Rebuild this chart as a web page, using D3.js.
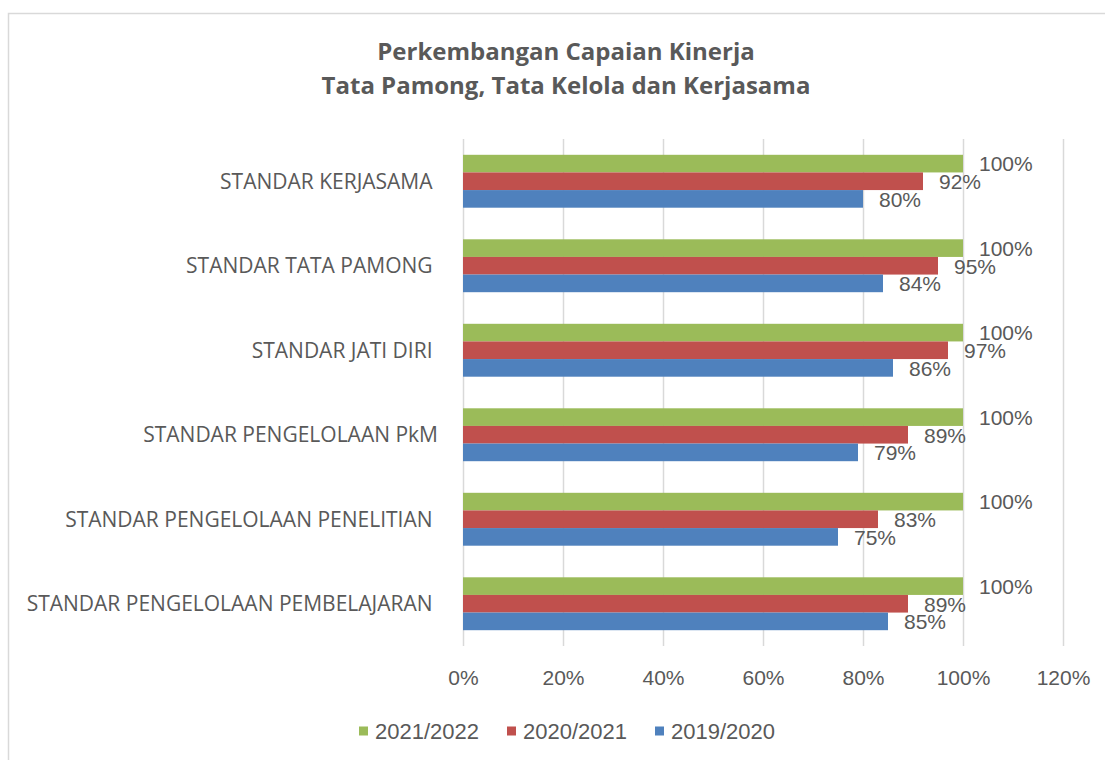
<!DOCTYPE html>
<html>
<head>
<meta charset="utf-8">
<script src="https://cdn.jsdelivr.net/npm/d3@7/dist/d3.min.js"></script>
<style>
  html, body { margin: 0; padding: 0; background: #fff; }
  svg { display: block; }
  .num { font-family: "Liberation Sans", Arial, sans-serif; }
  .cat { font-family: "Open Sans", sans-serif; white-space: pre; }
</style>
</head>
<body>
<svg id="chart" width="1105" height="760"></svg>
<script>
const titleLines = ["Perkembangan Capaian Kinerja", "Tata Pamong, Tata Kelola dan Kerjasama"];
const categories = [
  "STANDAR KERJASAMA ",
  "STANDAR TATA PAMONG ",
  "STANDAR JATI DIRI ",
  "STANDAR PENGELOLAAN PkM",
  "STANDAR PENGELOLAAN PENELITIAN ",
  "STANDAR PENGELOLAAN PEMBELAJARAN "
];
const seriesNames = ["2021/2022", "2020/2021", "2019/2020"];
const values2021_2022 = [100, 100, 100, 100, 100, 100];
const values2020_2021 = [92, 95, 97, 89, 83, 89];
const values2019_2020 = [80, 84, 86, 79, 75, 85];
const seriesColors = ["#9BBB59", "#C0504D", "#4F81BD"];
const tickValues = [0, 20, 40, 60, 80, 100, 120];

const seriesValues = [values2021_2022, values2020_2021, values2019_2020];
const series = seriesNames.map((name, i) => ({ name, color: seriesColors[i], values: seriesValues[i] }));

const svg = d3.select("#chart");
const textColor = "#595959";
const gridColor = "#D9D9D9";

// outer chart border
svg.append("rect")
  .attr("x", 8.5).attr("y", 13.5)
  .attr("width", 1110).attr("height", 760)
  .attr("fill", "none").attr("stroke", gridColor).attr("stroke-width", 1.5);

// title
const title = svg.append("text")
  .attr("text-anchor", "middle")
  .attr("font-family", "'Open Sans', sans-serif")
  .attr("font-weight", "bold")
  .attr("font-size", 24)
  .attr("fill", textColor);
titleLines.forEach((t, i) => {
  title.append("tspan").attr("x", 566).attr("y", 60 + i * 34).text(t);
});

const plotTop = 139, plotBottom = 646;
const x = d3.scaleLinear().domain([0, 120]).range([463, 1063]);
const y0 = d3.scaleBand().domain(categories).range([plotTop, plotBottom])
  .paddingInner(0.374).paddingOuter(0.187);
const y1 = d3.scaleBand().domain(seriesNames).range([0, y0.bandwidth()]);

// gridlines + axis labels
const axis = svg.append("g")
  .attr("transform", `translate(0,${plotBottom})`)
  .call(d3.axisBottom(x).tickValues(tickValues).tickSize(-(plotBottom - plotTop)).tickFormat(d => d + "%"));
axis.select(".domain").remove();
axis.selectAll(".tick line").attr("stroke", gridColor).attr("stroke-width", 1.5);
axis.selectAll(".tick text")
  .attr("class", "num")
  .attr("y", 32).attr("dy", "0.35em")
  .attr("font-size", 21)
  .attr("fill", textColor);

// bars
const groups = svg.append("g").selectAll("g")
  .data(categories.map((c, ci) => ({ c, ci })))
  .join("g")
  .attr("transform", d => `translate(0,${y0(d.c)})`);

groups.selectAll("rect")
  .data(d => series.map(s => ({ s, v: s.values[d.ci] })))
  .join("rect")
  .attr("x", x(0))
  .attr("y", d => y1(d.s.name))
  .attr("width", d => x(d.v) - x(0))
  .attr("height", y1.bandwidth())
  .attr("fill", d => d.s.color);

// data labels
groups.selectAll("text.lbl")
  .data(d => series.map(s => ({ s, v: s.values[d.ci] })))
  .join("text")
  .attr("class", "lbl num")
  .attr("x", d => x(d.v) + 16)
  .attr("y", d => y1(d.s.name) + y1.bandwidth() / 2)
  .attr("dy", "0.37em")
  .attr("font-size", 21)
  .attr("fill", textColor)
  .text(d => d.v + "%");

// category labels
svg.append("g").selectAll("text")
  .data(categories)
  .join("text")
  .attr("class", "cat")
  .attr("x", 438)
  .attr("y", d => y0(d) + y0.bandwidth() / 2)
  .attr("dy", "0.35em")
  .attr("text-anchor", "end")
  .attr("font-size", 21)
  .attr("fill", textColor)
  .text(d => d);

// legend
const legend = svg.append("g");
const legendY = 731;
const items = legend.selectAll("g").data(series).join("g");
items.append("rect")
  .attr("width", 9).attr("height", 9)
  .attr("y", legendY - 4.5)
  .attr("fill", d => d.color);
items.append("text")
  .attr("class", "num")
  .attr("x", 16)
  .attr("y", legendY).attr("dy", "0.35em")
  .attr("font-size", 22)
  .attr("fill", textColor)
  .text(d => d.name);
let widths = [];
items.each(function () { widths.push(this.querySelector("text").getComputedTextLength() + 16); });
const gap = 28;
const total = d3.sum(widths) + gap * (widths.length - 1);
let cx = 567 - total / 2;
items.attr("transform", (d, i) => { const t = `translate(${cx},0)`; cx += widths[i] + gap; return t; });
</script>
</body>
</html>
